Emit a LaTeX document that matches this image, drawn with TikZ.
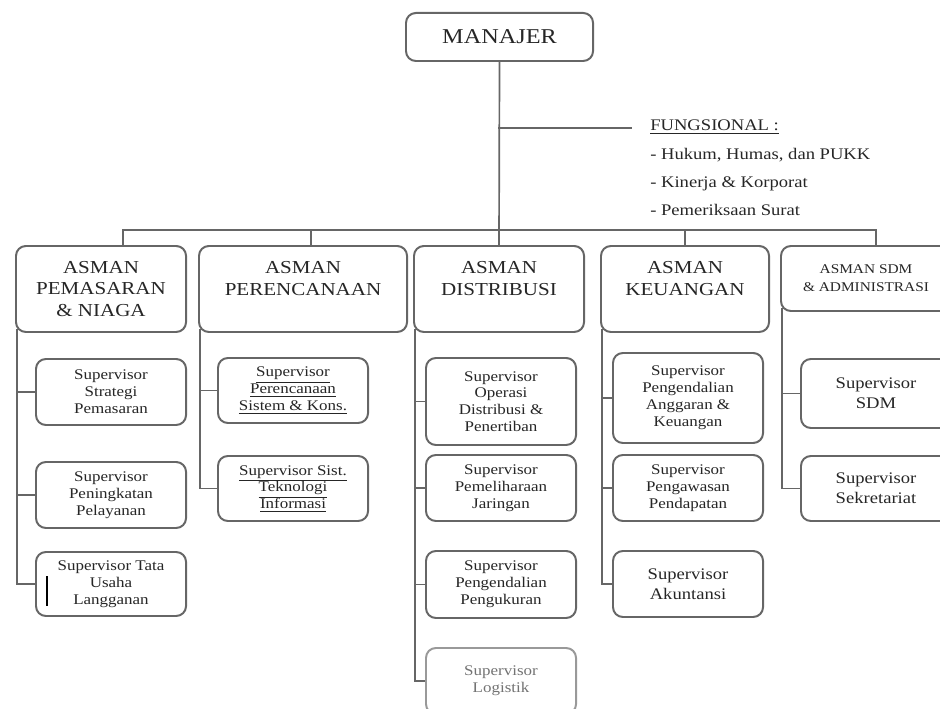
\documentclass[tikz,border=0pt]{standalone}
\usepackage{fontspec}
\setmainfont{Liberation Serif}[FakeStretch=1.15]
\usetikzlibrary{positioning}
\colorlet{boxline}{black!60}
\colorlet{linkline}{black!60}
\colorlet{txt}{black!85}
\tikzset{
  box/.style={draw=boxline, line width=1.4pt, rounded corners=7pt, fill=white,
    text=txt, align=center, anchor=north west, inner sep=2pt},
  boss/.style={box, minimum width=4.675cm, minimum height=1.2cm,
    font=\fontsize{15}{17}\selectfont},
  head/.style={box, minimum height=2.15cm, font=\fontsize{13}{15.5}\selectfont},
  sup/.style={box, minimum width=3.75cm, minimum height=1.65cm,
    font=\fontsize{10.5}{12}\selectfont},
  faint/.style={sup, draw=black!40, text=black!55},
  link/.style={draw=linkline, line width=1.2pt},
  fungtext/.style={anchor=north west, text=txt, align=left, inner sep=0pt,
    font=\fontsize{11.5}{20}\selectfont},
}

\begin{document}
\begin{tikzpicture}[x=0.025cm, y=-0.025cm]
  \useasboundingbox (0,0) rectangle (940,709);
  % top
  \node[boss] (man) at (405,12) {MANAJER};
  \node[fungtext] (fung) at (650,120) {\underline{FUNGSIONAL :}\\
    - Hukum, Humas, dan PUKK\\ - Kinerja \& Korporat\\ - Pemeriksaan Surat};
  % asman row
  \node[head, minimum width=4.25cm] (pn) at (15,245) {ASMAN\\PEMASARAN\\\& NIAGA};
  \node[head, minimum width=5.2cm] (pr) at (198,245) {ASMAN\\PERENCANAAN\\\mbox{}};
  \node[head, minimum width=4.25cm] (ds) at (413,245) {ASMAN\\DISTRIBUSI\\\mbox{}};
  \node[head, minimum width=4.2cm] (ku) at (600,245) {ASMAN\\KEUANGAN\\\mbox{}};
  \node[head, minimum width=4.25cm, minimum height=1.625cm,
    font=\fontsize{9.5}{13}\selectfont] (sd) at (780,245) {ASMAN SDM\\\& ADMINISTRASI};
  % supervisors
  \node[sup] (pn1) at (35,358) {Supervisor\\Strategi\\Pemasaran};
  \node[sup] (pn2) at (35,461) {Supervisor\\Peningkatan\\Pelayanan};
  \node[sup, minimum height=1.6cm] (pn3) at (35,551) {Supervisor Tata\\Usaha\\Langganan};
  \node[sup, minimum height=1.625cm] (pr1) at (217,357)
    {\underline{Supervisor}\\\underline{Perencanaan}\\\underline{Sistem \& Kons.}};
  \node[sup, minimum height=1.625cm] (pr2) at (217,455)
    {\underline{Supervisor Sist.}\\\underline{Teknologi}\\\underline{Informasi}};
  \node[sup, minimum height=2.175cm] (ds1) at (425,357) {Supervisor\\Operasi\\Distribusi \&\\Penertiban};
  \node[sup] (ds2) at (425,454) {Supervisor\\Pemeliharaan\\Jaringan};
  \node[sup, minimum height=1.675cm] (ds3) at (425,550) {Supervisor\\Pengendalian\\Pengukuran};
  \node[faint] (ds4) at (425,647) {Supervisor\\Logistik};
  \node[sup, minimum height=2.25cm] (ku1) at (612,352) {Supervisor\\Pengendalian\\Anggaran \&\\Keuangan};
  \node[sup] (ku2) at (612,454) {Supervisor\\Pengawasan\\Pendapatan};
  \node[sup, font=\fontsize{11.5}{14}\selectfont] (ku3) at (612,550) {Supervisor\\Akuntansi};
  \node[sup, minimum height=1.725cm, font=\fontsize{11.5}{14}\selectfont] (sd1) at (800,358) {Supervisor\\SDM};
  \node[sup, minimum height=1.625cm, font=\fontsize{11.5}{14}\selectfont] (sd2) at (800,455) {Supervisor\\Sekretariat};
  \draw[line width=2pt] (47,576) -- (47,606);
  % lines
  \coordinate (bus) at (498,230);
  \coordinate (fj) at (498,128);
  \coordinate (fe) at (632,128);
  \draw[link] (man.south) -- (ds.north);
  \draw[link] (fj) -- (fe);
  \draw[link] ([xshift=5.5mm]pn.north) |- (bus) -| ([xshift=2.5mm]sd.north);
  \draw[link] ([xshift=2mm]pr.north) -- ([xshift=2mm]pr.north |- bus);
  \draw[link] (ku.north) -- (ku.north |- bus);
  \foreach \top/\last/\others in {pn/pn3/{pn1,pn2}, pr/pr2/{pr1}, ds/ds4/{ds1,ds2,ds3},
      ku/ku3/{ku1,ku2}, sd/sd2/{sd1}} {
    \coordinate (sp) at ([xshift=0.5mm, yshift=1mm]\top.south west);
    \draw[link] (sp) |- (\last.west);
    \foreach \n in \others
      \draw[link] (\n.west) -- (\n.west -| sp);
  }
\end{tikzpicture}
\end{document}
